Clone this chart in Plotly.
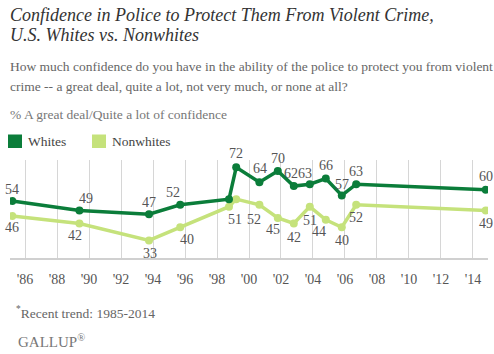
import plotly.graph_objects as go

# ---- data ----
years = [1985.2, 1989.4, 1993.75, 1995.7, 1998.75, 1999.2, 2000.65, 2001.8,
         2002.8, 2003.8, 2004.8, 2005.8, 2006.7, 2014.8]
whites = [54, 49, 47, 52, 55, 72, 64, 70, 62, 63, 66, 57, 63, 60]
nonwhites = [46, 42, 33, 40, 51, 55, 52, 45, 42, 51, 44, 40, 52, 49]
tick_years = list(range(1986, 2015, 2))
tick_labels = ["'%02d" % (y % 100) for y in tick_years]

# label offsets (px): (xshift, yshift); None = no label
white_lab = [(0, 12), (7, 12), (0, 12), (-7, 12), None, (0, 14), (1, 14), (0, 13),
             (-3, 13), (-5, 11), (0, 13), (0, 11), (0, 13), (0, 13)]
non_lab = [(0, -11), (-4, -12), (1, -13), (7, -12), (6, -13), None, (-5, -15), (-5, -12),
           (0, -14), (0, -14), (-7, -12), (0, -13), (0, -13), (0, -13)]

DARK = "#0b7d3a"
LIGHT = "#c5e27b"
SERIF = "Liberation Serif"

W, H = 494, 354
L, R, T, B = 10, 6, 160, 96
PW, PH = W - L - R, H - T - B


def px(xp, yp):
    return (xp - L) / PW, (H - B - yp) / PH


fig = go.Figure()
fig.add_trace(go.Scatter(x=years, y=nonwhites, mode="lines+markers", name="Nonwhites",
                         line=dict(color=LIGHT, width=3.5), marker=dict(size=8, color=LIGHT),
                         hoverinfo="skip"))
fig.add_trace(go.Scatter(x=years, y=whites, mode="lines+markers", name="Whites",
                         line=dict(color=DARK, width=3.5), marker=dict(size=8, color=DARK),
                         hoverinfo="skip"))

ann = []
for x, v, off in zip(years, whites, white_lab):
    if off:
        ann.append(dict(x=x, y=v, text=str(v), showarrow=False, xshift=off[0], yshift=off[1],
                        font=dict(family=SERIF, size=14, color="#555")))
for x, v, off in zip(years, nonwhites, non_lab):
    if off:
        ann.append(dict(x=x, y=v, text=str(v), showarrow=False, xshift=off[0], yshift=off[1],
                        font=dict(family=SERIF, size=14, color="#555")))


def txt(xp, yp, text, size, color, italic=False, xanchor="left"):
    x, y = px(xp, yp)
    ann.append(dict(xref="paper", yref="paper", x=x, y=y, xanchor=xanchor, yanchor="middle",
                    text=text, showarrow=False,
                    font=dict(family=SERIF, size=size, color=color,
                              style="italic" if italic else "normal")))


txt(8, 15, "Confidence in Police to Protect Them From Violent Crime,", 18, "#333", True)
txt(8, 35, "U.S. Whites vs. Nonwhites", 18, "#333", True)
txt(8, 66, "How much confidence do you have in the ability of the police to protect you from violent", 13.5, "#666")
txt(8, 86, "crime -- a great deal, quite a lot, not very much, or none at all?", 13.5, "#666")
txt(8, 114, "% A great deal/Quite a lot of confidence", 13.5, "#777")
txt(26, 141, "Whites", 13.5, "#444")
txt(110, 141, "Nonwhites", 13.5, "#444")
txt(14, 312, "<sup>*</sup>Recent trend: 1985-2014", 13.5, "#666")
txt(16, 341, "GALLUP<sup>®</sup>", 15, "#777")

shapes = []
for x0, c in ((8, DARK), (92, LIGHT)):
    a, b = px(x0, 134.5)
    a2, b2 = px(x0 + 14, 148)
    shapes.append(dict(type="rect", xref="paper", yref="paper", x0=a, y0=b, x1=a2, y1=b2,
                       fillcolor=c, line=dict(width=0)))

fig.update_layout(
    width=W, height=H, margin=dict(l=L, r=R, t=T, b=B),
    paper_bgcolor="white", plot_bgcolor="white", showlegend=False,
    annotations=ann, shapes=shapes,
    xaxis=dict(range=[1985.06, 2014.94], tickvals=tick_years, ticktext=tick_labels,
               showgrid=True, gridcolor="#d6d6d6", gridwidth=1, zeroline=False,
               showline=True, linecolor="#d0d0d0", linewidth=2, ticks="",
               ticklabelstandoff=7,
               tickfont=dict(family=SERIF, size=14, color="#555"), fixedrange=True),
    yaxis=dict(range=[23.6, 75.9], visible=False, showgrid=False, fixedrange=True),
)
fig.write_html("out.html")
